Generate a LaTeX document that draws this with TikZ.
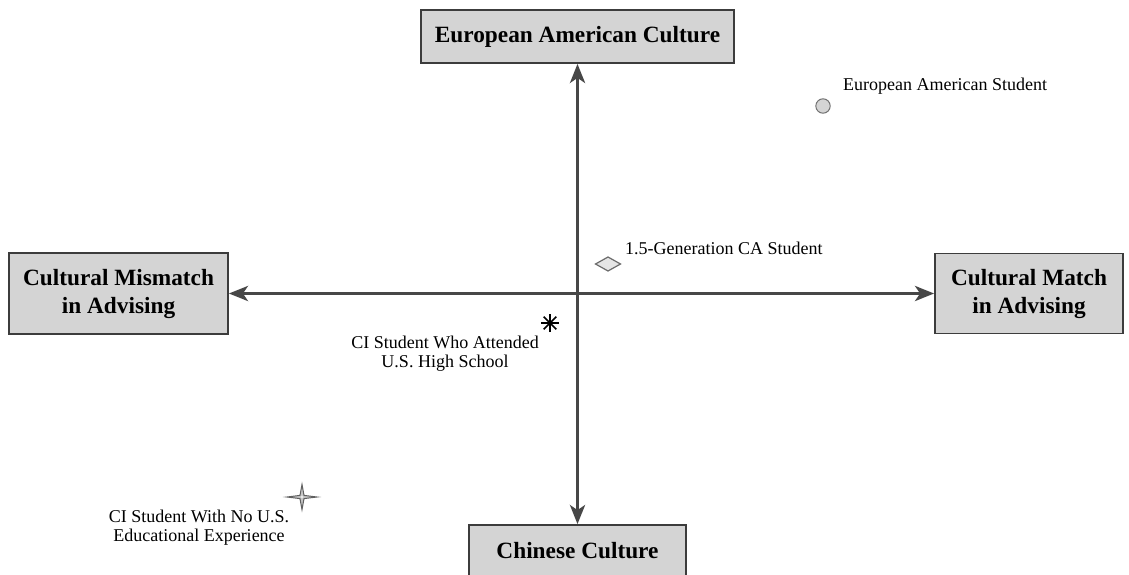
\documentclass[tikz,border=0pt]{standalone}
\usepackage{fontspec}
\setmainfont{Liberation Serif}
\usetikzlibrary{arrows.meta,calc}
\definecolor{boxfill}{HTML}{D4D4D4}
\definecolor{boxline}{HTML}{3C3C3C}
\definecolor{axiscol}{HTML}{474747}
\tikzset{
  catbox/.style={draw=boxline, line width=1.8pt, fill=boxfill, align=center, inner sep=0pt,
    font=\bfseries\fontsize{23.3}{28}\selectfont},
  axisline/.style={draw=axiscol, line width=3.3pt, {Stealth[length=19pt,width=15pt,inset=5pt]}-{Stealth[length=19pt,width=15pt,inset=5pt]}},
  lbl/.style={inner sep=0pt, align=center, font=\fontsize{18}{19}\selectfont},
}
\begin{document}
\begin{tikzpicture}[x=1pt,y=-1pt]
\useasboundingbox (0,0) rectangle (1129,575);
\clip (0,0) rectangle (1129,575);
\fill[white] (0,0) rectangle (1129,575);
% category boxes
\node[catbox, minimum width=313pt, minimum height=53pt] (top) at (577.5,36.5) {European American Culture};
\node[catbox, minimum width=217pt, minimum height=52pt] (bottom) at (577.5,551) {Chinese Culture};
\node[catbox, minimum width=219pt, minimum height=81pt] (left) at (118.5,293.5) {Cultural Mismatch\\in Advising};
\node[catbox, minimum width=188pt, minimum height=80pt] (right) at (1029,293.5) {Cultural Match\\in Advising};
% axes
\draw[axisline] (top.south) -- (bottom.north);
\draw[axisline] (left.east) -- (right.west);
% markers
\coordinate (mEA) at (823,106);
\filldraw[fill=boxfill, draw=gray!90!black, line width=1pt] (mEA) circle (7.2pt);
\node[lbl, anchor=west] (tEA) at (843,86) {European American Student};

\coordinate (mGen) at (608,264);
\filldraw[fill=gray!20, draw=gray!85!black, line width=1.2pt] ($(mGen)+(-12.5,0)$) -- ++(12.5,-7) -- ++(12.5,7) -- ++(-12.5,7) -- cycle;
\node[lbl, anchor=west] (tGen) at (625,248) {1.5-Generation CA Student};

\coordinate (mCI) at (550,323);
\foreach \a in {0,45,90,135}
  \draw[black, line width=1.7pt] (mCI) ++(\a:9) -- ++(\a+180:18);
\node[lbl] (tCI) at (445,354) {CI Student Who Attended\\U.S. High School};

\coordinate (mNo) at (302,497);
\filldraw[fill=gray!45, draw=gray!75!black, line width=1pt]
  (mNo) ++(-15,0) -- ++(13,-1.6) -- ++(2,-11) -- ++(2,11) -- ++(13,1.6)
  -- ++(-13,1.6) -- ++(-2,11) -- ++(-2,-11) -- cycle;
\fill[white!85!gray] (mNo) circle (1.3pt);
\node[lbl] (tNo) at (199,528) {CI Student With No U.S.\\Educational Experience};
\end{tikzpicture}
\end{document}
